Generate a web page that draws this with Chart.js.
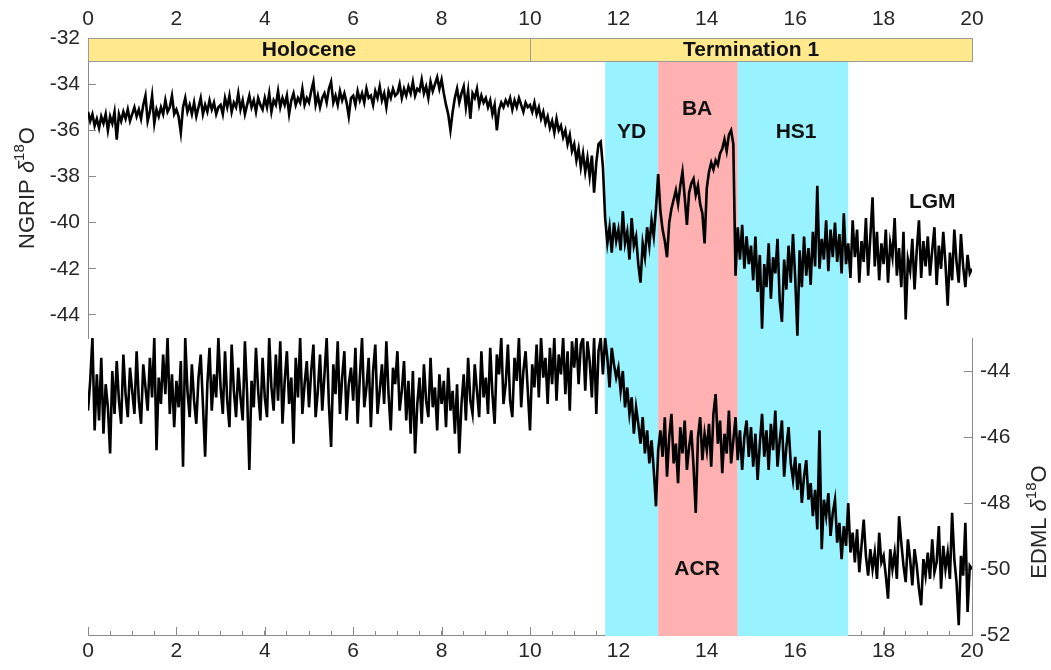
<!DOCTYPE html>
<html lang="en">
<head>
  <meta charset="UTF-8">
  <title>NGRIP / EDML δ18O</title>
  <script src="https://cdn.jsdelivr.net/npm/chart.js"></script>
  <style>
    body {
      margin: 0;
      padding: 0;
      background: #fff;
    }
    .chart-box {
      position: relative;
      width: 1051px;
      height: 670px;
    }
  </style>
</head>
<body>
  <div class="chart-box">
    <canvas id="isoChart"></canvas>
  </div>

  <script>
    // age axis in kyr, one sample every 0.05 kyr (rows = 1 kyr)
    const AGE_STEP = 0.05;

    const ngrip = [
      -35.2, -35.6, -35.3, -35.8, -35.5, -35.9, -35.4, -35.7, -35.3, -36.0, -35.4, -35.7, -35.2, -36.4, -35.3, -35.6, -35.2, -35.5, -35.1, -35.6,
      -35.3, -35.0, -35.4, -35.1, -35.5, -34.9, -34.5, -35.6, -35.2, -34.5, -35.7, -35.1, -35.4, -35.0, -35.3, -34.7, -35.2, -35.0, -34.5, -35.3,
      -35.1, -35.4, -36.1, -35.0, -34.6, -35.2, -34.9, -35.3, -34.8, -35.4, -35.0, -34.6, -35.3, -34.9, -35.2, -34.7, -35.1, -34.8, -35.3, -35.0,
      -34.9, -35.3, -34.6, -35.0, -34.5, -35.2, -34.8, -35.0, -34.4, -35.1, -34.7, -35.3, -34.9, -34.5, -35.0, -34.7, -35.2, -34.6, -34.9, -35.1,
      -34.6, -35.0, -34.4, -35.2, -34.7, -34.9, -34.3, -35.0, -34.6, -34.9, -34.5, -35.3, -34.7, -34.4, -34.9, -34.6, -34.8, -34.2, -34.9, -34.6,
      -34.8, -34.3, -33.9, -34.9, -34.5, -35.0, -34.6, -34.4, -34.8, -34.2, -33.9, -34.8, -34.5, -34.9, -34.3, -34.7, -34.4, -34.8, -35.4, -34.6,
      -34.5, -34.9, -34.3, -34.7, -34.4, -34.8, -34.2, -34.6, -34.5, -34.9, -34.3, -34.6, -34.1, -34.7, -34.4, -35.0, -34.3, -34.6, -34.2, -34.5,
      -34.4, -34.0, -34.6, -34.2, -34.5, -34.1, -34.4, -33.9, -34.5, -34.2, -34.3, -33.8, -34.4, -34.1, -34.6, -33.9, -34.3, -34.0, -33.7, -34.2,
      -33.8, -34.4, -34.9, -35.3, -36.0, -35.2, -34.6, -34.2, -34.8, -34.4, -34.1, -35.0, -34.3, -35.5, -34.4, -34.6, -34.2, -34.9, -34.5, -34.8,
      -34.6, -35.0, -34.7, -35.3, -34.9, -36.0, -35.1, -34.8, -35.0, -34.7, -34.9, -34.6, -35.1, -34.7, -35.0, -34.6, -34.9, -35.2, -34.8, -35.0,
      -34.9, -35.2, -34.8, -35.3, -35.0, -35.5, -35.2, -35.7, -35.4, -35.9, -35.6, -36.1, -35.5, -36.0, -35.8, -36.3, -36.0, -36.6, -36.2, -36.9,
      -36.6, -37.3, -36.8, -37.6, -37.0, -37.8, -37.2, -38.0, -37.1, -38.7, -37.4, -36.6, -36.5, -37.6, -39.8, -40.9, -40.2, -41.3, -40.0, -40.8,
      -40.3, -41.2, -39.5, -40.9, -40.4, -41.6, -39.8, -41.0, -40.6, -41.8, -42.6, -40.9, -41.5, -40.2, -41.0, -39.9, -40.6, -39.4, -37.9, -39.5,
      -40.3, -40.8, -41.5, -40.0, -39.4, -39.0, -38.6, -39.2, -38.4, -37.8, -38.9, -40.1, -38.7, -38.3, -38.1, -38.8, -38.4, -39.2, -39.6, -40.9,
      -38.5, -37.8, -37.4, -37.7, -37.3, -37.5, -37.0, -36.8, -36.4, -36.9, -36.2, -36.0, -36.6, -42.3, -40.2, -41.6, -40.1, -42.0, -40.6, -41.8,
      -41.0, -42.5, -40.6, -43.0, -41.4, -44.6, -41.8, -42.8, -40.9, -43.3, -41.5, -42.2, -40.7, -43.4, -44.3, -41.6, -42.9, -41.0, -42.6, -40.5,
      -42.4, -44.9, -41.2, -42.8, -40.6, -42.3, -41.1, -42.7, -40.4, -41.9, -38.4, -42.0, -40.7, -41.6, -39.9, -42.1, -40.3, -41.5, -40.0, -41.7,
      -40.5, -42.2, -39.6, -41.8, -40.9, -42.4, -39.9, -41.5, -40.3, -42.6, -40.8, -41.7, -39.8, -42.3, -40.6, -38.9, -41.9, -40.4, -42.5, -40.9,
      -41.8, -40.3, -42.6, -40.9, -41.5, -39.8, -42.3, -41.1, -42.8, -40.4, -44.2, -41.6, -42.1, -40.7, -42.9, -41.2, -39.9, -42.4, -40.8, -41.9,
      -40.6, -42.3, -41.2, -40.2, -42.7, -41.0, -42.0, -40.4, -41.8, -43.6, -41.3, -42.5, -40.3, -41.7, -42.6, -40.5, -41.9, -42.8, -41.4, -42.2,
      -42.0
    ];

    const edml = [
      -45.2, -44.3, -43.0, -45.8, -44.1, -45.5, -43.6, -45.9, -44.4, -45.1, -46.5, -44.0, -45.3, -43.7, -44.9, -45.6, -43.5, -44.7, -45.4, -43.9,
      -44.6, -45.3, -43.4, -44.9, -45.6, -43.8, -44.5, -45.2, -43.6, -44.8, -43.0, -46.4, -44.2, -45.0, -43.5, -44.7, -43.0, -45.3, -44.1, -45.7,
      -44.3, -45.1, -43.7, -46.9, -43.0, -44.6, -45.4, -43.8, -44.9, -45.6, -44.2, -43.5, -45.0, -46.6, -44.4, -43.3, -45.2, -44.1, -44.8, -43.0,
      -44.5, -45.3, -43.4, -44.9, -45.7, -43.2, -44.6, -45.4, -43.9, -44.8, -45.5, -43.1, -44.7, -47.0, -44.3, -45.1, -43.3, -44.6, -45.5, -43.6,
      -44.8, -45.4, -43.0, -44.5, -45.2, -43.5, -44.9, -43.1, -45.6, -44.3, -43.4, -45.0, -44.2, -46.2, -43.6, -44.8, -43.0, -45.3, -44.4, -43.7,
      -45.1, -44.0, -43.2, -45.4, -44.6, -43.5, -45.2, -44.1, -43.0, -45.0, -46.3, -43.8, -44.7, -43.1, -45.3, -44.2, -43.4, -45.5, -44.4, -43.9,
      -44.9, -43.3, -45.6, -44.2, -43.0, -45.1, -44.5, -43.6, -45.7, -44.0, -43.2, -45.3, -44.6, -43.8, -45.0, -43.1, -44.7, -45.8, -43.9, -44.4,
      -43.4, -45.2, -44.6, -43.7, -45.5, -44.3, -45.9, -44.0, -46.5, -45.0, -44.2, -45.6, -43.8, -44.9, -45.4, -43.6, -45.1, -44.5, -45.8, -44.1,
      -45.0, -44.3, -45.7, -43.9, -45.2, -44.6, -45.9, -44.4, -46.5, -45.0, -44.1, -45.5, -43.6, -44.9, -45.3, -43.8, -44.6, -45.4, -43.4, -44.8,
      -44.2, -45.3, -43.3, -44.7, -45.6, -43.5, -44.1, -43.0, -45.0, -44.4, -43.2, -44.9, -45.4, -43.6, -44.3, -43.0, -45.1, -44.0, -43.4, -44.6,
      -45.8, -43.8, -44.5, -43.2, -44.8, -43.0, -44.2, -43.6, -45.0, -43.3, -44.4, -43.0, -44.9, -43.5, -44.1, -43.0, -44.7, -43.4, -45.2, -43.1,
      -43.9, -43.0, -44.4, -43.2, -43.0, -44.6, -43.1, -43.7, -44.8, -43.0, -45.3, -43.4, -43.0, -44.1, -43.0, -43.6, -44.5, -43.3, -43.8, -44.2,
      -43.9, -44.6, -44.0, -45.1, -44.5, -45.3, -44.8, -45.9, -45.1, -45.6, -46.2, -45.4, -46.5, -45.8, -46.8, -46.1, -47.0, -48.1, -46.4, -45.8,
      -46.6, -45.4, -47.2, -46.0, -45.3, -46.8, -46.2, -47.4, -45.7, -46.5, -45.5, -47.0, -46.3, -45.8, -46.9, -48.3, -46.0, -45.4, -46.7, -45.9,
      -46.4, -45.6, -46.9, -45.3, -44.7, -46.2, -45.5, -47.1, -45.9, -46.5, -45.2, -46.8, -46.1, -45.4, -46.7, -45.8, -47.0, -46.0, -45.5, -46.6,
      -45.7, -46.9, -45.9, -47.3, -46.2, -45.3, -46.6, -45.8, -47.0, -45.6, -46.4, -45.2, -46.9, -46.1, -45.5, -47.2, -46.3, -45.7, -46.8, -47.3,
      -46.6, -47.6, -46.8, -48.0, -47.2, -46.7, -47.9, -47.4, -48.4, -47.6, -48.8, -45.8, -49.4, -47.9, -48.4, -47.7, -49.0, -48.3, -47.9, -49.2,
      -48.6, -49.7, -48.7, -49.3, -48.0, -49.5, -48.9, -49.8, -48.8, -50.1, -49.3, -48.5, -49.6, -50.2, -49.4, -50.0, -49.5, -50.3, -48.9, -49.8,
      -49.6, -50.2, -50.9, -49.4, -50.0, -49.5, -50.3, -48.4, -49.2, -49.9, -50.4, -49.1, -49.7, -50.5, -49.4, -49.9, -50.6, -51.1, -49.7, -50.2,
      -49.5, -50.3, -49.1, -50.1, -49.8, -48.7, -50.6, -49.3, -50.0, -49.5, -50.3, -48.3, -49.7, -50.4, -51.7, -49.6, -50.2, -48.6, -51.3, -49.9,
      -50.0
    ];

    // climate periods: [label, start kyr, end kyr]
    const epochs = [['Holocene', 0, 10], ['Termination 1', 10, 20]];
    const bands = [['cold', 11.7, 12.9], ['warm', 12.9, 14.7], ['cold', 14.7, 17.2]];
    // text labels: [text, age, value, axis]
    const periodLabels = [
      ['YD', 12.3, -36.1, 'y'],
      ['BA', 13.78, -35.1, 'y'],
      ['HS1', 16.02, -36.1, 'y'],
      ['LGM', 19.1, -39.1, 'y'],
      ['ACR', 13.78, -50.0, 'y2']
    ];
    const xTicks = [0, 2, 4, 6, 8, 10, 12, 14, 16, 18, 20];

    const FONT = "'Liberation Sans', Arial, sans-serif";
    const TEXT = '#262626';
    const AXIS = '#8a8a8a';
    const BAND_COLORS = { cold: '#99f2ff', warm: '#ffb0b0' };

    function toPoints(values) {
      return values.map((v, i) => ({ x: +(i * AGE_STEP).toFixed(2), y: v }));
    }

    const backdrop = {
      id: 'backdrop',
      beforeDatasetsDraw(chart) {
        const { ctx, chartArea, scales } = chart;
        const x = scales.x, y = scales.y;
        ctx.save();
        // long ticks at the labelled ages
        ctx.strokeStyle = AXIS;
        ctx.lineWidth = 1;
        xTicks.forEach(t => {
          const px = Math.round(x.getPixelForValue(t)) + 0.5;
          ctx.beginPath();
          ctx.moveTo(px, chartArea.bottom);
          ctx.lineTo(px, chartArea.bottom - 8);
          ctx.stroke();
        });
        // shaded stadials / interstadials
        const top = y.getPixelForValue(-33);
        bands.forEach(([kind, a, b]) => {
          const x0 = x.getPixelForValue(a), x1 = x.getPixelForValue(b);
          ctx.fillStyle = BAND_COLORS[kind];
          ctx.fillRect(x0, top, x1 - x0, chartArea.bottom + 1 - top);
        });
        // epoch bar
        const b0 = y.getPixelForValue(-32), b1 = y.getPixelForValue(-33);
        epochs.forEach(([name, a, b]) => {
          const x0 = x.getPixelForValue(a), x1 = x.getPixelForValue(b);
          ctx.fillStyle = '#ffe98c';
          ctx.fillRect(x0, b0, x1 - x0, b1 - b0);
          ctx.strokeStyle = '#9a9a9a';
          ctx.strokeRect(Math.round(x0) + 0.5, Math.round(b0) + 0.5, Math.round(x1 - x0), Math.round(b1 - b0));
          ctx.fillStyle = '#111';
          ctx.font = 'bold 21px ' + FONT;
          ctx.textAlign = 'center';
          ctx.textBaseline = 'middle';
          ctx.fillText(name, (x0 + x1) / 2, (b0 + b1) / 2 + 1);
        });
        ctx.restore();
      },
      afterDatasetsDraw(chart) {
        const { ctx, scales } = chart;
        ctx.save();
        ctx.fillStyle = '#111';
        ctx.font = 'bold 21px ' + FONT;
        ctx.textAlign = 'center';
        ctx.textBaseline = 'middle';
        periodLabels.forEach(([txt, t, v, axis]) => {
          ctx.fillText(txt, scales.x.getPixelForValue(t), scales[axis].getPixelForValue(v));
        });
        // axis titles with italic delta and superscript 18
        drawIsoTitle(ctx, 'NGRIP ', 28, (scales.y.top + scales.y.bottom) / 2);
        drawIsoTitle(ctx, 'EDML ', 1040, 522);
        ctx.restore();
      }
    };

    function drawIsoTitle(ctx, name, cx, cy) {
      const parts = [
        [name, '22px ' + FONT, 0],
        ['δ', 'italic 22px ' + FONT, 0],
        ['18', '15px ' + FONT, -8],
        ['O', '22px ' + FONT, 0]
      ];
      let total = 0;
      parts.forEach(p => { ctx.font = p[1]; total += ctx.measureText(p[0]).width; });
      ctx.save();
      ctx.translate(cx, cy);
      ctx.rotate(-Math.PI / 2);
      ctx.fillStyle = TEXT;
      ctx.textAlign = 'left';
      ctx.textBaseline = 'middle';
      let pos = -total / 2;
      parts.forEach(([s, f, dy]) => {
        ctx.font = f;
        ctx.fillText(s, pos, dy);
        pos += ctx.measureText(s).width;
      });
      ctx.restore();
    }

    const tickFont = { family: FONT, size: 21 };

    new Chart(document.getElementById('isoChart'), {
      type: 'line',
      data: {
        datasets: [
          { label: 'NGRIP', data: toPoints(ngrip), xAxisID: 'x', yAxisID: 'y' },
          { label: 'EDML', data: toPoints(edml), xAxisID: 'x', yAxisID: 'y2' }
        ]
      },
      options: {
        responsive: true,
        maintainAspectRatio: false,
        animation: false,
        layout: { padding: 0 },
        elements: {
          line: { borderColor: '#000', borderWidth: 2.6, tension: 0 },
          point: { radius: 0 }
        },
        plugins: { legend: { display: false }, tooltip: { enabled: false } },
        scales: {
          x: {
            type: 'linear', position: 'bottom', min: 0, max: 20,
            afterFit(s) { s.height = 35; },
            border: { color: AXIS },
            grid: { drawOnChartArea: false, tickLength: -4, color: AXIS },
            ticks: {
              stepSize: 0.5, autoSkip: false, maxRotation: 0, padding: 8,
              color: TEXT, font: tickFont,
              callback: v => (v % 2 === 0 ? String(v) : '')
            }
          },
          x2: {
            type: 'linear', position: 'top', min: 0, max: 20,
            afterFit(s) { s.height = 38; },
            border: { display: false },
            grid: { display: false, drawTicks: false },
            ticks: { stepSize: 2, autoSkip: false, maxRotation: 0, padding: 6, color: TEXT, font: tickFont }
          },
          y: {
            position: 'left', stack: 'left', stackWeight: 300, weight: 2,
            min: -45, max: -32,
            afterFit(s) { s.width = 88; },
            border: { color: AXIS },
            grid: { drawOnChartArea: false, tickLength: -8, color: AXIS },
            ticks: { stepSize: 2, autoSkip: false, includeBounds: false, padding: 16, color: TEXT, font: tickFont }
          },
          yLow: {
            position: 'left', stack: 'left', stackWeight: 297, weight: 1,
            display: false, min: 0, max: 1
          },
          yHigh: {
            position: 'right', stack: 'right', stackWeight: 300, weight: 1,
            display: false, min: 0, max: 1
          },
          y2: {
            position: 'right', stack: 'right', stackWeight: 297, weight: 2,
            min: -52, max: -43,
            afterFit(s) { s.width = 79; },
            border: { color: AXIS },
            grid: { drawOnChartArea: false, tickLength: -8, color: AXIS },
            ticks: { stepSize: 2, autoSkip: false, includeBounds: false, padding: 16, color: TEXT, font: tickFont }
          }
        }
      },
      plugins: [backdrop]
    });
  </script>
</body>
</html>
